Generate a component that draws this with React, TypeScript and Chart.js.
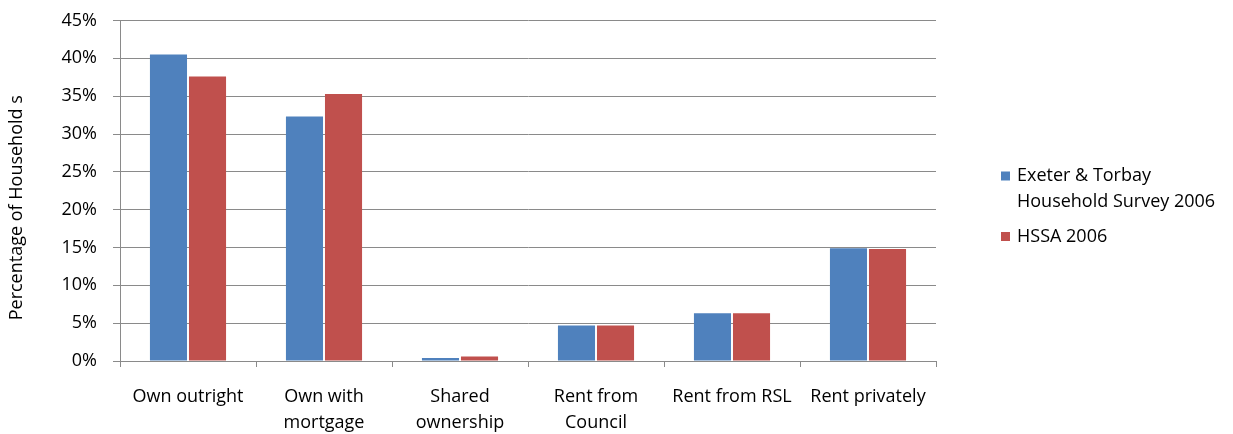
import React, { useEffect, useRef } from "react";
import { Chart, registerables } from "chart.js";

Chart.register(...registerables);

// Tenure categories (multi-line labels are arrays of lines)
const categories: string[][] = [
  ["Own outright"],
  ["Own with", "mortgage"],
  ["Shared", "ownership"],
  ["Rent from", "Council"],
  ["Rent from RSL"],
  ["Rent privately"],
];

// Share of households (%) per tenure
const surveyValues: number[] = [40.5, 32.3, 0.4, 4.7, 6.3, 14.9];
const hssaValues: number[] = [37.6, 35.3, 0.6, 4.7, 6.3, 14.8];

const seriesNames: string[][] = [["Exeter & Torbay", "Household Survey 2006"], ["HSSA 2006"]];
const seriesColors: string[] = ["#4F81BD", "#C0504D"];

const yMax = 45;
const yStep = 5;
const yTitle = "Percentage of Household s";

const FONT = '"Open Sans", "DejaVu Sans", sans-serif';
const FONT_SIZE = 18;
const LINE_H = 26;
const TEXT = "#000000";
const GRID = "#8a8a8a";

// Draws the rotated y-axis caption and the right-hand legend.
const sideText = {
  id: "sideText",
  afterDraw(chart: any) {
    const { ctx, chartArea } = chart;
    ctx.save();
    ctx.font = `${FONT_SIZE}px ${FONT}`;
    ctx.fillStyle = TEXT;
    ctx.textBaseline = "middle";

    // y-axis caption
    ctx.save();
    ctx.translate(17, (chartArea.top + chartArea.bottom) / 2 + 17);
    ctx.rotate(-Math.PI / 2);
    ctx.textAlign = "center";
    ctx.fillText(yTitle, 0, 0);
    ctx.restore();

    // legend
    const boxX = chartArea.right + 65;
    const textX = boxX + 16;
    let y = 176;
    ctx.textAlign = "left";
    seriesNames.forEach((lines, i) => {
      ctx.fillStyle = seriesColors[i];
      ctx.fillRect(boxX, y - 4.5, 9, 9);
      ctx.fillStyle = TEXT;
      lines.forEach((line, j) => {
        ctx.fillText(line, textX, y + j * 25.5);
      });
      y += (lines.length - 1) * 25.5 + 35;
    });
    ctx.restore();
  },
};

export default function App() {
  const canvasRef = useRef<HTMLCanvasElement>(null);

  useEffect(() => {
    const canvas = canvasRef.current;
    if (!canvas) return;
    const values = [surveyValues, hssaValues];
    const chart = new Chart(canvas, {
      type: "bar",
      data: {
        labels: categories,
        datasets: seriesNames.map((name, i) => ({
          label: name.join(" "),
          data: values[i],
          backgroundColor: seriesColors[i],
          borderWidth: 0,
          categoryPercentage: 0.574,
          barPercentage: 0.95,
        })),
      },
      options: {
        responsive: false,
        animation: false,
        layout: { padding: { top: 20.5, right: 297, bottom: 0, left: 0 } },
        plugins: {
          legend: { display: false },
          tooltip: { enabled: false },
        },
        scales: {
          x: {
            grid: {
              offset: true,
              drawOnChartArea: false,
              drawTicks: true,
              tickLength: 6,
              color: GRID,
            },
            border: { color: GRID, width: 1 },
            ticks: {
              autoSkip: false,
              maxRotation: 0,
              minRotation: 0,
              padding: 17,
              color: TEXT,
              font: { family: FONT, size: FONT_SIZE, lineHeight: LINE_H / FONT_SIZE },
            },
            afterFit: (scale: any) => {
              scale.height = 73;
            },
          },
          y: {
            min: 0,
            max: yMax,
            grid: { color: GRID, tickLength: 7, lineWidth: 1 },
            border: { color: GRID, width: 1 },
            ticks: {
              stepSize: yStep,
              padding: 16,
              color: TEXT,
              font: { family: FONT, size: FONT_SIZE },
              callback: (v: any) => `${v}%`,
            },
            afterFit: (scale: any) => {
              scale.width = 120;
              scale.paddingTop = 0;
            },
          },
        },
      },
      plugins: [sideText],
    });
    return () => chart.destroy();
  }, []);

  return (
    <div style={{ position: "absolute", left: 0, top: 0, width: 1233, height: 434 }}>
      <canvas ref={canvasRef} width={1233} height={434} style={{ display: "block", width: 1233, height: 434 }} />
    </div>
  );
}
